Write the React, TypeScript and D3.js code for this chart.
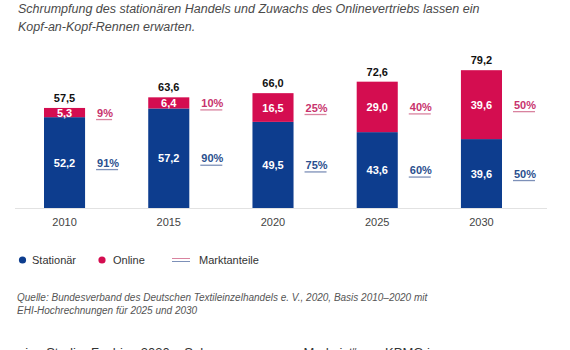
import * as d3 from 'd3';

const years = ['2010', '2015', '2020', '2025', '2030'];
const stationaer = [52.2, 57.2, 49.5, 43.6, 39.6];
const online = [5.3, 6.4, 16.5, 29.0, 39.6];
const totals = [57.5, 63.6, 66.0, 72.6, 79.2];
const shareOnline = [9, 10, 25, 40, 50];
const shareStationaer = [91, 90, 75, 60, 50];

const titleLines = [
  'Schrumpfung des stationären Handels und Zuwachs des Onlinevertriebs lassen ein',
  'Kopf-an-Kopf-Rennen erwarten.',
];
const sourceLines = [
  'Quelle: Bundesverband des Deutschen Textileinzelhandels e. V., 2020, Basis 2010–2020 mit',
  'EHI-Hochrechnungen für 2025 und 2030',
];
const footLine = 'eine Studie „Fashion 2030 – Sehen, was morgen Mode ist“ von KPMG in';

const BLUE = '#0d3d8e';
const PINK = '#d40d50';
const BLUE_TXT = '#2a4f8e';
const PINK_TXT = '#c8336d';
const FONT = '"Liberation Sans", Arial, Helvetica, sans-serif';

const de = d3.formatLocale({ decimal: ',', thousands: '.', grouping: [3], currency: ['', ' €'] });
const fmt = de.format('.1f');

function App() {
  const baseY = 208;
  const x = d3.scaleBand<string>().domain(years).range([44, 502]).paddingInner(0.606).paddingOuter(0);
  const y = d3.scaleLinear().domain([0, 80]).range([baseY, baseY - 80 * 1.74]);
  const bw = x.bandwidth();

  const pctLabel = (v: number, yc: number, x0: number, txtColor: string, lineColor: string, key: string) => {
    const s = `${v}%`;
    const w = s.length === 2 ? 14 : 20;
    return (
      <g key={key}>
        <text x={x0} y={yc + 4} fontSize={11} fontWeight="bold" fill={txtColor}>{s}</text>
        <line x1={x0 - 1} x2={x0 + w + 1} y1={yc + 7} y2={yc + 7} stroke={lineColor} strokeWidth={1.3} />
      </g>
    );
  };

  return (
    <div style={{ position: 'absolute', left: 0, top: 0 }}>
      <svg width={570} height={350} style={{ display: 'block', fontFamily: FONT }}>
        <rect width={570} height={350} fill="#fff" />
        {titleLines.map((t, i) => (
          <text key={t} x={18} y={13 + i * 18} fontSize={12.5} fontStyle="italic" fill="#4a4a4a">{t}</text>
        ))}

        <line x1={15} x2={547} y1={baseY + 0.5} y2={baseY + 0.5} stroke="#e2e2e2" strokeWidth={1} />

        {years.map((yr, i) => {
          const x0 = x(yr)!;
          const cx = x0 + bw / 2;
          const yS = y(stationaer[i]);
          const yT = y(stationaer[i] + online[i]);
          const cS = (yS + baseY) / 2;
          const cO = (yT + yS) / 2;
          const px = x0 + bw + 12;
          return (
            <g key={yr}>
              <rect x={x0} y={yS} width={bw} height={baseY - yS} fill={BLUE} />
              <rect x={x0} y={yT} width={bw} height={yS - yT} fill={PINK} />
              <text x={cx} y={cS + 4} textAnchor="middle" fontSize={11} fontWeight="bold" fill="#fff">{fmt(stationaer[i])}</text>
              <text x={cx} y={cO + 4} textAnchor="middle" fontSize={11} fontWeight="bold" fill="#fff">{fmt(online[i])}</text>
              <text x={cx} y={yT - 6} textAnchor="middle" fontSize={11} fontWeight="bold" fill="#111">{fmt(totals[i])}</text>
              <text x={cx} y={226} textAnchor="middle" fontSize={11} fill="#444">{yr}</text>
              {pctLabel(shareOnline[i], cO, px, PINK_TXT, '#d9839f', 'o')}
              {pctLabel(shareStationaer[i], cS, px, BLUE_TXT, '#7d90b8', 's')}
            </g>
          );
        })}

        <g fontSize={11} fill="#333">
          <circle cx={22.5} cy={260} r={3.6} fill={BLUE} />
          <text x={32} y={264}>Stationär</text>
          <circle cx={102} cy={260} r={3.6} fill={PINK} />
          <text x={113} y={264}>Online</text>
          <line x1={172} x2={190} y1={258.5} y2={258.5} stroke="#d9839f" strokeWidth={1} />
          <line x1={172} x2={190} y1={261.5} y2={261.5} stroke="#7d90b8" strokeWidth={1} />
          <text x={199} y={264}>Marktanteile</text>
        </g>

        {sourceLines.map((t, i) => (
          <text key={t} x={17} y={300.5 + i * 13.5} fontSize={10} fontStyle="italic" fill="#555">{t}</text>
        ))}
        <text x={18} y={357} fontSize={13} fill="#333">{footLine}</text>
      </svg>
    </div>
  );
}

export default App;
